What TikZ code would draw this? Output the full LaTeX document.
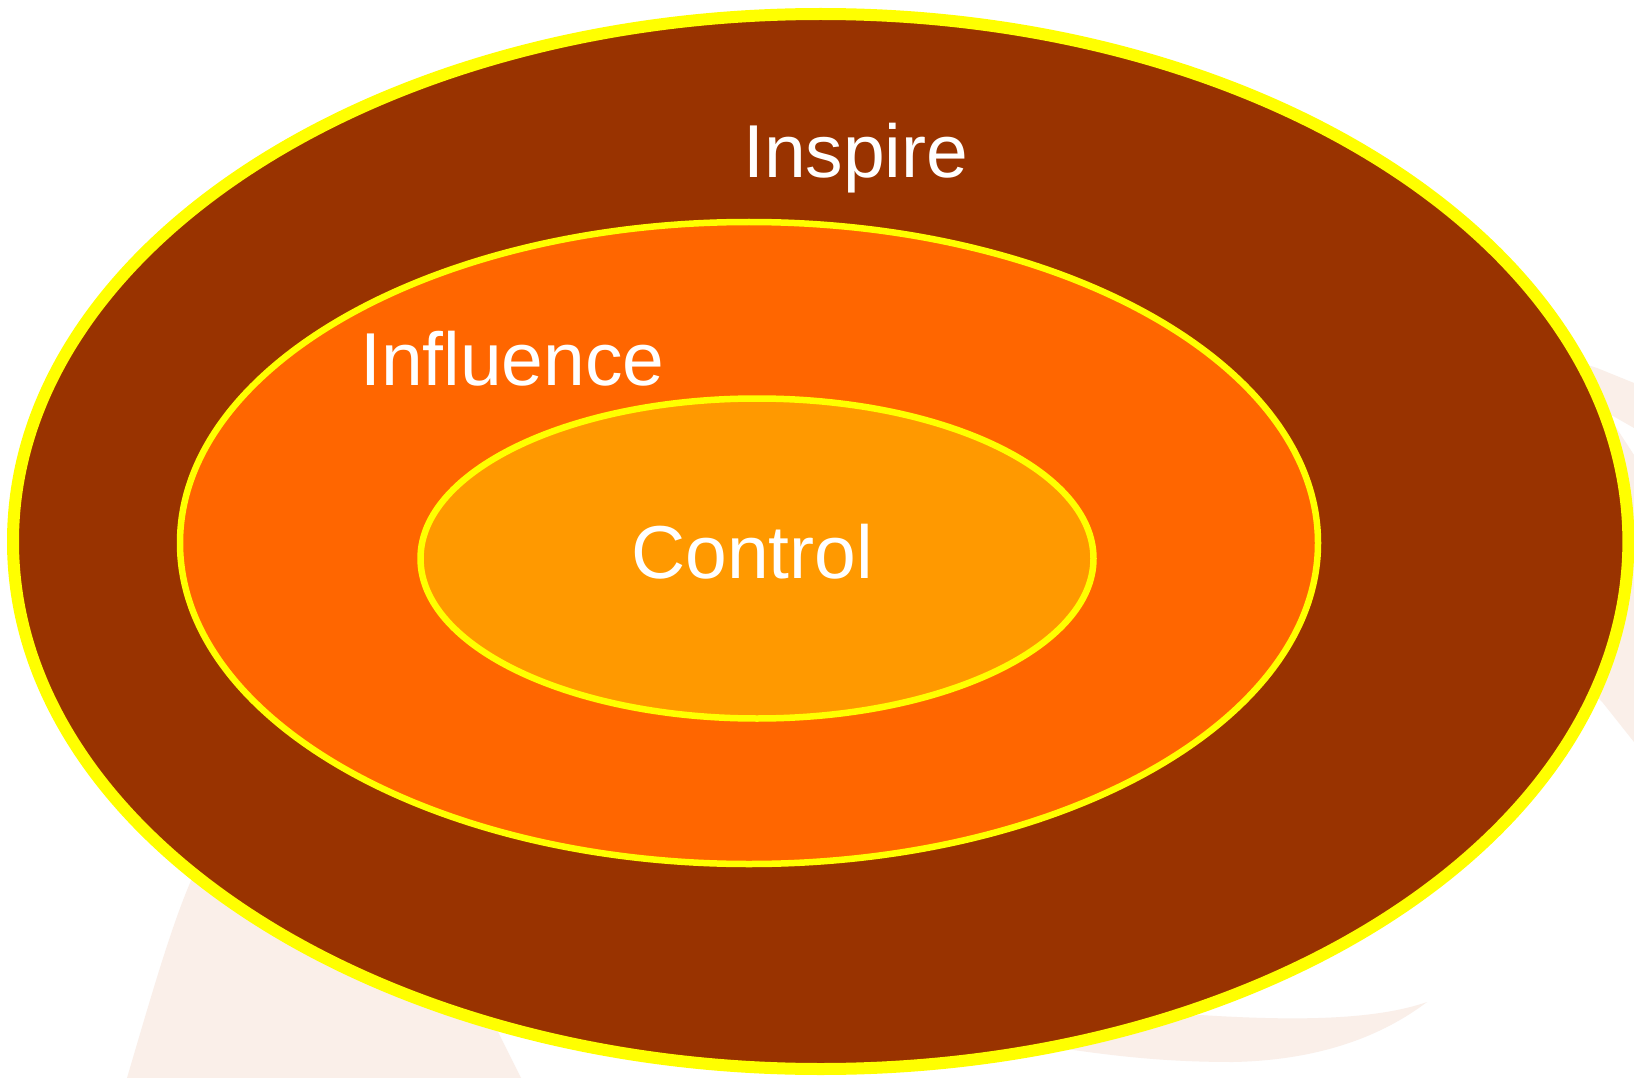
\documentclass[tikz,border=0pt]{standalone}
\usepackage{fontspec}
\setmainfont{Liberation Sans}
\definecolor{bgwash}{HTML}{FAEFE9}
\definecolor{inspirefill}{HTML}{993300}
\definecolor{influencefill}{HTML}{FF6600}
\definecolor{controlfill}{HTML}{FF9900}
\definecolor{ringline}{HTML}{FFFF00}
\begin{document}
\begin{tikzpicture}[x=1pt,y=-1pt,
  wash/.style={fill=bgwash,draw=none},
  ring/.style={draw=ringline},
  label/.style={text=white,inner sep=0pt,anchor=base west,font=\fontsize{75}{90}\selectfont}]
\useasboundingbox (0,0) rectangle (1634,1078);
\fill[white] (0,0) rectangle (1634,1078);
% faint background washes
\path[wash] (127,1078) .. controls (150,1000) and (170,930) .. (190,883)
  -- (260,700) -- (440,760) -- (490,1016) -- (521,1078) -- cycle;
\path[wash] (1540,350) -- (1597,368) -- (1634,383) -- (1634,428) -- (1606,412)
  -- (1634,455) -- (1634,742) -- (1603,703) -- (1540,640) -- cycle;
\path[wash] (1060,1030) -- (1200,1015) .. controls (1280,1020) and (1370,1022) .. (1427,1002)
  .. controls (1390,1030) and (1330,1060) .. (1233,1062)
  .. controls (1170,1062) and (1120,1057) .. (1060,1048) -- cycle;
% rings
\draw[ring,line width=12pt,fill=inspirefill] (820.7,541.5) ellipse [x radius=807.7, y radius=527.5];
\draw[ring,line width=6.5pt,fill=influencefill] (749,543) ellipse [x radius=569, y radius=321];
\draw[ring,line width=6.5pt,fill=controlfill] (757,558.5) ellipse [x radius=336.5, y radius=160];
% labels
\node[label] (inspire) at (743,178) {Inspire};
\node[label] (influence) at (360,385) {Influence};
\node[label] (control) at (631,578) {Control};
\end{tikzpicture}
\end{document}
